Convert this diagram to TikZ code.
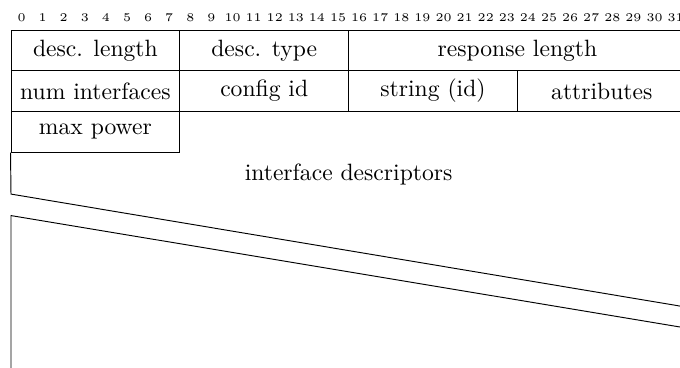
\documentclass[tikz,border=0pt]{standalone}
\usepackage{tikz}

\begin{document}
\begin{tikzpicture}[x=8.94pt, y=17.25pt]
% Field style
\tikzset{
    field/.style={draw, minimum height=17.25pt, inner sep=0pt},
    w8/.style={field, minimum width=71.52pt},
    w16/.style={field, minimum width=143.04pt},
    bitnum/.style={font=\tiny, inner sep=0pt}
}

\useasboundingbox (-0.521, 0.737) rectangle (31.706, -8.28);

% Bit numbers
\foreach \b in {0,...,31}
    \node[bitnum] (bit\b) at (\b+0.5, 0.307) {\b};

% Nodes
\node[w8] (DLEN) at (4, -0.5) {desc. length};
\node[w8] (DTYPE) at (12, -0.5) {desc. type};
\node[w16] (RLEN) at (24, -0.5) {response length};

\node[w8] (NIF) at (4, -1.5) {num interfaces};
\node[w8] (CFG) at (12, -1.5) {config id};
\node[w8] (STR) at (20, -1.5) {string (id)};
\node[w8] (ATTR) at (28, -1.5) {attributes};

\node[w8] (MAXP) at (4, -2.5) {max power};
\node (IFD) at (16, -3.55) {interface descriptors};

\coordinate (SKa) at (0, -4.03);
\coordinate (SKb) at (32, -6.806);
\coordinate (SKc) at (0, -4.558);
\coordinate (SKd) at (32, -7.32);
\coordinate (END) at (0, -8.5);

% Connections
\draw (MAXP.south west) -- (SKa) -- (SKb);
\draw (SKd) -- (SKc) -- (END);
\end{tikzpicture}
\end{document}
